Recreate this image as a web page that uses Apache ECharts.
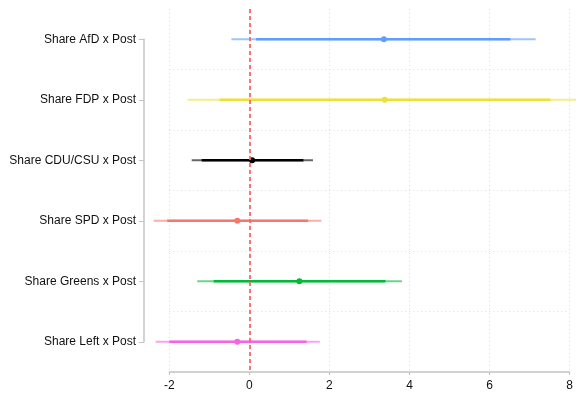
<!DOCTYPE html>
<html>
<head>
<meta charset="utf-8">
<script src="https://cdn.jsdelivr.net/npm/echarts@6/dist/echarts.min.js"></script>
<style>html,body{margin:0;padding:0;background:#fff;}#c{width:576px;height:396px;}</style>
</head>
<body>
<div id="c"></div>
<script>
// ---- data ----
const categories = ['Share AfD x Post', 'Share FDP x Post', 'Share CDU/CSU x Post', 'Share SPD x Post', 'Share Greens x Post', 'Share Left x Post'];
const estimates = [3.36, 3.38, 0.07, -0.30, 1.25, -0.30];
const ci95Low  = [-0.45, -1.54, -1.44, -2.39, -1.30, -2.34];
const ci95High = [7.15, 8.30, 1.59, 1.80, 3.81, 1.76];
const ci90Low  = [0.17, -0.74, -1.19, -2.05, -0.89, -2.00];
const ci90High = [6.52, 7.52, 1.35, 1.47, 3.40, 1.43];
const xMin = -2, xMax = 8, xStep = 2;
const refValue = 0;

// ---- style ----
const palette = ['#619CFF', '#EBE13A', '#000000', '#F8766D', '#00BA38', '#F564E3'];
const font = {color: '#111', fontFamily: 'Liberation Sans, Arial, sans-serif', fontSize: 12};
const axisGray = '#c4c4c4';

const rows = categories.map((c, i) => [i, ci95Low[i], ci95High[i], ci90Low[i], ci90High[i], estimates[i]]);

const chart = echarts.init(document.getElementById('c'), null, {renderer: 'canvas'});
chart.setOption({
  animation: false,
  backgroundColor: '#ffffff',
  grid: [
    {left: 169.25, right: 3, top: 9, bottom: 24, containLabel: false},
    {left: 144, width: 1, top: 39.25, bottom: 54.25, containLabel: false}
  ],
  xAxis: [
    {
      gridIndex: 0, type: 'value', min: xMin, max: xMax, interval: xStep,
      axisLine: {show: true, lineStyle: {color: axisGray, width: 1.5}},
      axisTick: {show: true, length: 3, lineStyle: {color: axisGray, width: 1}},
      axisLabel: Object.assign({margin: 8}, font),
      splitLine: {show: true, lineStyle: {color: '#dcdcdc', type: [1, 3], width: 1}}
    },
    {gridIndex: 1, type: 'value', show: false}
  ],
  yAxis: [
    {
      gridIndex: 0, type: 'category', data: categories, inverse: true, boundaryGap: true,
      axisLine: {show: false}, axisTick: {show: false}, axisLabel: {show: false},
      splitLine: {show: true, interval: (i) => i > 0, lineStyle: {color: '#dcdcdc', type: [1, 3], width: 1}}
    },
    {
      gridIndex: 1, type: 'category', data: categories, inverse: true, boundaryGap: false,
      axisLine: {show: true, lineStyle: {color: axisGray, width: 1.5}},
      axisTick: {show: true, length: 5, lineStyle: {color: axisGray, width: 1}},
      axisLabel: Object.assign({margin: 8, interval: 0}, font),
      splitLine: {show: false}
    }
  ],
  series: [
    {
      type: 'custom', xAxisIndex: 0, yAxisIndex: 0, z: 2, silent: true, data: [],
      renderItem: () => null,
      markLine: {
        silent: true, symbol: 'none', animation: false,
        label: {show: false},
        data: [{xAxis: refValue, lineStyle: {color: '#FF6464', width: 1.8, type: [4, 3]}}]
      }
    },
    {
      type: 'custom', xAxisIndex: 0, yAxisIndex: 0, z: 3, clip: false,
      data: rows,
      encode: {x: [1, 2, 3, 4, 5], y: 0},
      renderItem: function (params, api) {
        const i = api.value(0);
        const col = palette[i];
        const a = api.coord([api.value(1), i]);
        const b = api.coord([api.value(2), i]);
        const c = api.coord([api.value(3), i]);
        const d = api.coord([api.value(4), i]);
        const e = api.coord([api.value(5), i]);
        return {
          type: 'group',
          children: [
            {type: 'line', shape: {x1: a[0], y1: a[1], x2: b[0], y2: b[1]}, style: {stroke: col, lineWidth: 1.8, opacity: 0.6}},
            {type: 'line', shape: {x1: c[0], y1: c[1], x2: d[0], y2: d[1]}, style: {stroke: col, lineWidth: 2.6}},
            {type: 'circle', shape: {cx: e[0], cy: e[1], r: 3}, style: {fill: col}}
          ]
        };
      }
    }
  ]
});
</script>
</body>
</html>
